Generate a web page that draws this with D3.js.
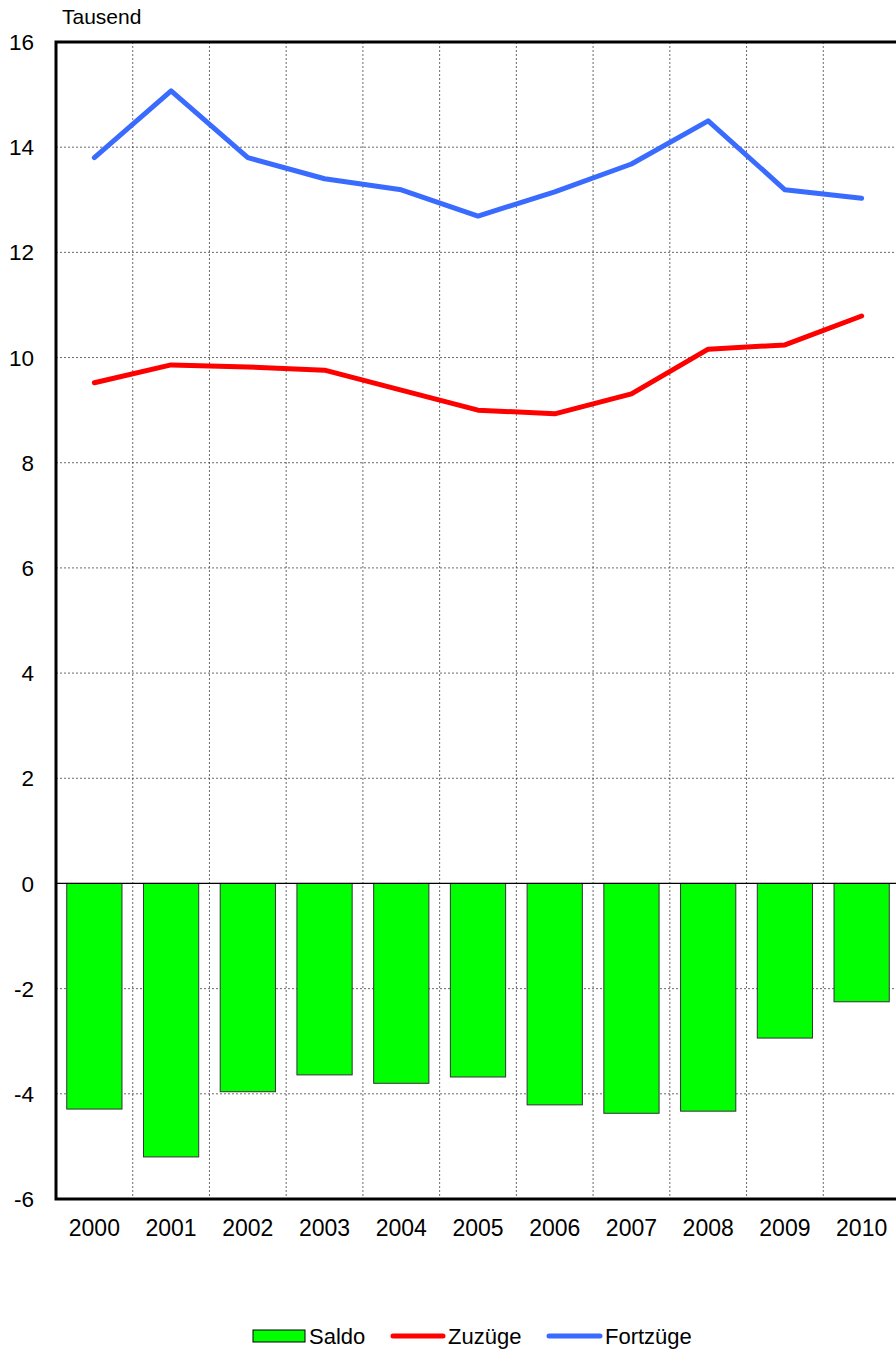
<!DOCTYPE html>
<html>
<head>
<meta charset="utf-8">
<script src="https://cdn.jsdelivr.net/npm/d3@7"></script>
<style>
  html, body { margin: 0; padding: 0; background: #fff; }
  svg { display: block; font-family: Arial, "Liberation Sans", sans-serif; }
</style>
</head>
<body>
<svg id="chart"></svg>
<script>
const years = ["2000", "2001", "2002", "2003", "2004", "2005", "2006", "2007", "2008", "2009", "2010"];
const saldo = [-4.29, -5.20, -3.96, -3.64, -3.80, -3.68, -4.21, -4.37, -4.33, -2.94, -2.25];
const zuzuege = [9.52, 9.86, 9.82, 9.76, 9.38, 9.00, 8.93, 9.31, 10.16, 10.24, 10.79];
const fortzuege = [13.80, 15.07, 13.80, 13.40, 13.19, 12.69, 13.15, 13.68, 14.50, 13.19, 13.03];
const yTicks = [-6, -4, -2, 0, 2, 4, 6, 8, 10, 12, 14, 16];

const width = 896, height = 1352;
const margin = { top: 42, left: 56, bottom: 153 };
const plotRight = 900;

const svg = d3.select("#chart")
    .attr("width", width)
    .attr("height", height);

const x = d3.scaleBand()
    .domain(years)
    .range([margin.left, plotRight])
    .paddingInner(0.28)
    .paddingOuter(0.14);

const y = d3.scaleLinear()
    .domain([-6, 16])
    .range([height - margin.bottom, margin.top]);

const step = x.step();

// grid
const grid = svg.append("g")
    .attr("stroke", "#444")
    .attr("stroke-width", 0.8)
    .attr("stroke-dasharray", "2,2");

grid.selectAll("line.h")
    .data(yTicks.filter(d => d !== 0 && d !== -6 && d !== 16))
    .join("line")
    .attr("x1", margin.left).attr("x2", plotRight)
    .attr("y1", d => y(d)).attr("y2", d => y(d));

grid.selectAll("line.v")
    .data(years.slice(1))
    .join("line")
    .attr("x1", d => x(d) - step * 0.14).attr("x2", d => x(d) - step * 0.14)
    .attr("y1", y(16)).attr("y2", y(-6));

// bars
svg.append("g")
    .selectAll("rect")
    .data(saldo)
    .join("rect")
    .attr("x", (d, i) => x(years[i]))
    .attr("width", x.bandwidth())
    .attr("y", d => y(Math.max(0, d)))
    .attr("height", d => Math.abs(y(d) - y(0)))
    .attr("fill", "#00ff00")
    .attr("stroke", "#333")
    .attr("stroke-width", 1);

// zero line
svg.append("line")
    .attr("x1", margin.left).attr("x2", plotRight)
    .attr("y1", y(0)).attr("y2", y(0))
    .attr("stroke", "#000")
    .attr("stroke-width", 1.2);

// lines
const line = d3.line()
    .x((d, i) => x(years[i]) + x.bandwidth() / 2)
    .y(d => y(d));

svg.append("path")
    .datum(zuzuege)
    .attr("d", line)
    .attr("fill", "none")
    .attr("stroke", "#ff0000")
    .attr("stroke-width", 5)
    .attr("stroke-linecap", "round")
    .attr("stroke-linejoin", "round");

svg.append("path")
    .datum(fortzuege)
    .attr("d", line)
    .attr("fill", "none")
    .attr("stroke", "#3a6bff")
    .attr("stroke-width", 5)
    .attr("stroke-linecap", "round")
    .attr("stroke-linejoin", "round");

// frame
svg.append("path")
    .attr("d", `M${plotRight},${y(16)}H${margin.left}V${y(-6)}H${plotRight}`)
    .attr("fill", "none")
    .attr("stroke", "#000")
    .attr("stroke-width", 3);

// y axis labels
svg.append("g")
    .attr("font-size", 22.5)
    .attr("text-anchor", "end")
    .selectAll("text")
    .data(yTicks)
    .join("text")
    .attr("x", 34)
    .attr("y", d => y(d))
    .attr("dy", "0.36em")
    .text(d => d);

svg.append("text")
    .attr("x", 62).attr("y", 24)
    .attr("font-size", 21)
    .text("Tausend");

// x labels
svg.append("g")
    .attr("font-size", 23)
    .attr("text-anchor", "middle")
    .selectAll("text")
    .data(years)
    .join("text")
    .attr("x", d => x(d) + x.bandwidth() / 2)
    .attr("y", 1236)
    .text(d => d);

// legend
const legend = svg.append("g").attr("font-size", 22);
legend.append("rect")
    .attr("x", 253).attr("y", 1330).attr("width", 52).attr("height", 12)
    .attr("fill", "#00ff00").attr("stroke", "#000").attr("stroke-width", 1);
legend.append("text").attr("x", 309).attr("y", 1344).text("Saldo");

legend.append("line")
    .attr("x1", 393).attr("x2", 443).attr("y1", 1336).attr("y2", 1336)
    .attr("stroke", "#ff0000").attr("stroke-width", 5).attr("stroke-linecap", "round");
legend.append("text").attr("x", 448).attr("y", 1344).text("Zuzüge");

legend.append("line")
    .attr("x1", 549).attr("x2", 600).attr("y1", 1336).attr("y2", 1336)
    .attr("stroke", "#3a6bff").attr("stroke-width", 5).attr("stroke-linecap", "round");
legend.append("text").attr("x", 605).attr("y", 1344).text("Fortzüge");
</script>
</body>
</html>
